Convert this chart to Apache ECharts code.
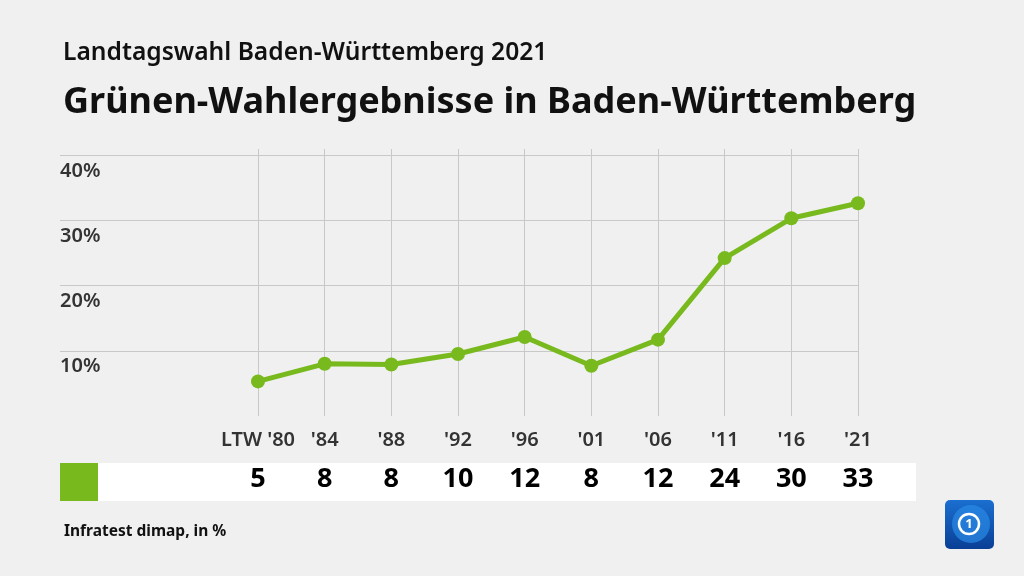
<!DOCTYPE html>
<html><head><meta charset="utf-8">
<script src="https://cdn.jsdelivr.net/npm/echarts@6/dist/echarts.min.js"></script>
<style>html,body{margin:0;padding:0;background:#f0f0f0}#c{width:1024px;height:576px}</style>
</head><body><div id="c"></div>
<script>
const categories = ["LTW '80", "'84", "'88", "'92", "'96", "'01", "'06", "'11", "'16", "'21"];
const values = [5.3, 8.0, 7.9, 9.5, 12.1, 7.7, 11.7, 24.2, 30.3, 32.6];
const tableValues = values.map(v => String(Math.round(v)));
const yTicks = [10, 20, 30, 40];

const FONT = 'Noto Sans';
const GREEN = '#78b91e';
const chart = echarts.init(document.getElementById('c'), null, {renderer: 'canvas'});
chart.setOption({
  backgroundColor: '#f0f0f0',
  animation: false,
  textStyle: {fontFamily: FONT},
  title: [
    {text: 'Landtagswahl Baden-Württemberg 2021', left: 58, top: 35,
     textStyle: {fontFamily: FONT, fontSize: 24.6, fontWeight: 600, color: '#111'}},
    {text: 'Grünen-Wahlergebnisse in Baden-Württemberg', left: 58, top: 80,
     textStyle: {fontFamily: FONT, fontSize: 36, fontWeight: 700, color: '#111'}},
    {text: 'Infratest dimap, in %', left: 59, top: 519,
     textStyle: {fontFamily: FONT, fontSize: 15.5, fontWeight: 700, color: '#111'}}
  ],
  graphic: [
    {type: 'rect', shape: {x: 98, y: 463, width: 818, height: 38}, style: {fill: '#ffffff'}, z: 0},
    {type: 'rect', shape: {x: 60, y: 463, width: 38, height: 38}, style: {fill: GREEN}, z: 1},
    {type: 'group', x: 945, y: 500, children: [
      {type: 'rect', shape: {x: 0, y: 0, width: 49, height: 49, r: 5},
       style: {fill: new echarts.graphic.LinearGradient(0, 0, 0, 1, [{offset: 0, color: '#1a6fd0'}, {offset: 1, color: '#0a3f95'}])}},
      {type: 'circle', shape: {cx: 26, cy: 24, r: 19}, style: {fill: '#2a8ae6', opacity: 0.7}},
      {type: 'circle', shape: {cx: 24, cy: 24, r: 10}, style: {fill: 'none', stroke: '#ffffff', lineWidth: 2.5}},
      {type: 'text', style: {x: 24, y: 24, text: '1', fill: '#ffffff', font: 'bold 13px ' + FONT, align: 'center', verticalAlign: 'middle'}}
    ]}
  ],
  grid: [
    {left: 60, right: 166, top: 155, bottom: 160, containLabel: false},
    {left: 258, right: 166, top: 149, bottom: 160, containLabel: false}
  ],
  xAxis: [
    {gridIndex: 0, type: 'value', show: false},
    {gridIndex: 1, type: 'category', data: categories, boundaryGap: false,
     axisLine: {show: false}, axisTick: {show: false},
     axisLabel: {interval: 0, margin: 14, fontFamily: FONT, fontSize: 20, fontWeight: 600, color: '#333'},
     splitLine: {show: true, interval: 0, lineStyle: {color: '#c8c8c8', width: 1}}},
    {gridIndex: 1, type: 'category', data: tableValues, boundaryGap: false, position: 'bottom',
     axisLine: {show: false}, axisTick: {show: false}, splitLine: {show: false},
     axisLabel: {interval: 0, margin: 50, fontFamily: FONT, fontSize: 27, fontWeight: 700, color: '#000'}}
  ],
  yAxis: [
    {gridIndex: 0, type: 'value', min: 0, max: 40, interval: 10,
     axisLine: {show: false}, axisTick: {show: false},
     axisLabel: {showMinLabel: false, align: 'left', verticalAlign: 'top', margin: 0, padding: [6, 0, 0, 0],
       formatter: v => yTicks.includes(v) ? v + '%' : '',
       fontFamily: FONT, fontSize: 20, fontWeight: 600, color: '#333'},
     splitLine: {show: true, showMinLine: false, lineStyle: {color: '#c8c8c8', width: 1}}},
    {gridIndex: 1, type: 'value', min: 0, max: 40 * 267 / 261, show: false, splitLine: {show: false}}
  ],
  series: [
    {type: 'line', xAxisIndex: 1, yAxisIndex: 1, data: values,
     symbol: 'circle', symbolSize: 14, lineStyle: {color: GREEN, width: 5},
     itemStyle: {color: GREEN}, z: 5}
  ]
});
</script></body></html>
